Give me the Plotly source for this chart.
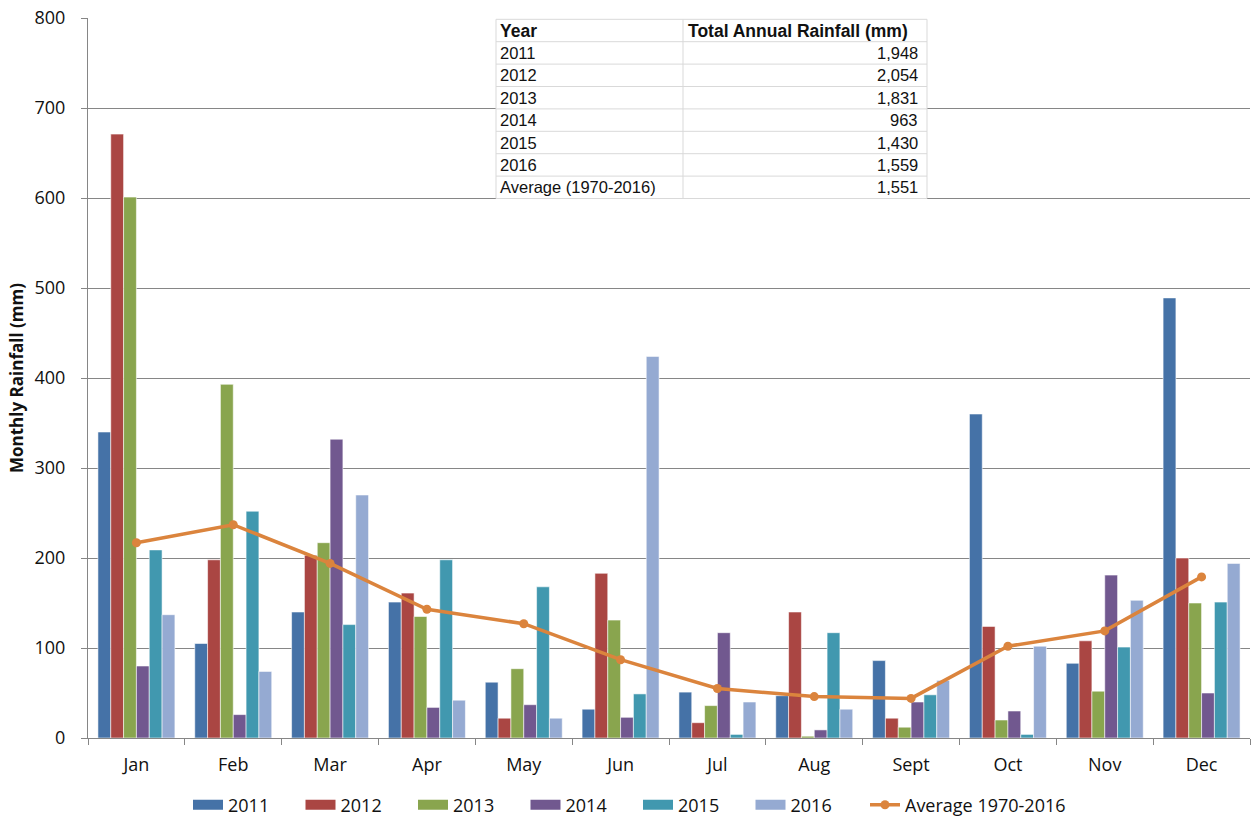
import plotly.graph_objects as go

# Monthly rainfall (mm) by year
months = ["Jan", "Feb", "Mar", "Apr", "May", "Jun", "Jul", "Aug", "Sept", "Oct", "Nov", "Dec"]
rain_2011 = [340, 105, 140, 151, 62, 32, 51, 47, 86, 360, 83, 489]
rain_2012 = [671, 198, 203, 161, 22, 183, 17, 140, 22, 124, 108, 200]
rain_2013 = [601, 393, 217, 135, 77, 131, 36, 2, 12, 20, 52, 150]
rain_2014 = [80, 26, 332, 34, 37, 23, 117, 9, 40, 30, 181, 50]
rain_2015 = [209, 252, 126, 198, 168, 49, 4, 117, 48, 4, 101, 151]
rain_2016 = [137, 74, 270, 42, 22, 424, 40, 32, 64, 102, 153, 194]
avg_1970_2016 = [217, 237, 194, 143, 127, 87, 55, 46, 44, 102, 119, 179]

# Annual totals table
table_header = ["Year", "Total Annual Rainfall (mm)"]
table_years = ["2011", "2012", "2013", "2014", "2015", "2016", "Average (1970-2016)"]
table_totals = [1948, 2054, 1831, 963, 1430, 1559, 1551]

series = [
    ("2011", rain_2011, "#4572A7"),
    ("2012", rain_2012, "#AA4643"),
    ("2013", rain_2013, "#89A54E"),
    ("2014", rain_2014, "#71588F"),
    ("2015", rain_2015, "#4198AF"),
    ("2016", rain_2016, "#95AAD2"),
]

W, H = 1256, 820
ML, MR, MT, MB = 88, 6, 18, 82
PW, PH = W - ML - MR, H - MT - MB

AXIS_GRAY = "#868686"
TEXT = "#111111"
FONT = "Open Sans, Liberation Sans, sans-serif"
TABLE_FONT = "Liberation Sans, Arial, sans-serif"


def px_x(p):
    return (p - ML) / PW


def px_y(p):
    return (H - MB - p) / PH


fig = go.Figure()

for name, vals, color in series:
    fig.add_trace(go.Bar(
        x=months, y=vals, name=name, legendgroup=name, showlegend=False,
        marker=dict(color=color, line=dict(color="rgba(255,255,255,0.7)", width=0.8)),
    ))

# Legend keys for the bar series: wide rectangular swatches
for name, vals, color in series:
    fig.add_trace(go.Scatter(
        x=[None], y=[None], name=name, legendgroup=name, mode="lines",
        line=dict(color=color, width=12), legend="legend", hoverinfo="skip",
    ))

fig.add_trace(go.Scatter(
    x=months, y=avg_1970_2016, name="Average 1970-2016",
    mode="lines+markers",
    line=dict(color="#DB843D", width=3.5),
    marker=dict(color="#DB843D", size=9),
    legend="legend2",
))

# Inset table of annual totals, drawn with shapes and annotations
t_left, t_mid, t_right = 496, 683, 927
t_top, row_h = 19.3, 22.4
n_rows = len(table_years) + 1
t_bottom = t_top + n_rows * row_h
line_col = "#d9d9d9"

shapes = [dict(type="rect", xref="paper", yref="paper", layer="above",
               x0=px_x(t_left), x1=px_x(t_right), y0=px_y(t_bottom), y1=px_y(t_top),
               fillcolor="white", line=dict(width=0))]
for i in range(n_rows + 1):
    yy = px_y(t_top + i * row_h)
    shapes.append(dict(type="line", xref="paper", yref="paper", layer="above",
                       x0=px_x(t_left), x1=px_x(t_right), y0=yy, y1=yy,
                       line=dict(color=line_col, width=1)))
for xx in (t_left, t_mid, t_right):
    shapes.append(dict(type="line", xref="paper", yref="paper", layer="above",
                       x0=px_x(xx), x1=px_x(xx), y0=px_y(t_bottom), y1=px_y(t_top),
                       line=dict(color=line_col, width=1)))

annotations = []
head_font = dict(family=TABLE_FONT, size=17.5, color=TEXT)
cell_font = dict(family=TABLE_FONT, size=16.5, color=TEXT)
hy = px_y(t_top + 0.5 * row_h)
annotations.append(dict(xref="paper", yref="paper", x=px_x(t_left + 2), y=hy,
                        text=f"<b>{table_header[0]}</b>", showarrow=False,
                        xanchor="left", yanchor="middle", font=head_font))
annotations.append(dict(xref="paper", yref="paper", x=px_x(t_mid + 3), y=hy,
                        text=f"<b>{table_header[1]}</b>", showarrow=False,
                        xanchor="left", yanchor="middle", font=head_font))
for i, (yr, tot) in enumerate(zip(table_years, table_totals), start=1):
    ry = px_y(t_top + (i + 0.5) * row_h)
    annotations.append(dict(xref="paper", yref="paper", x=px_x(t_left + 2), y=ry,
                            text=yr, showarrow=False, xanchor="left", yanchor="middle",
                            font=cell_font))
    annotations.append(dict(xref="paper", yref="paper", x=px_x(t_right - 7), y=ry,
                            text=f"{tot:,}", showarrow=False, xanchor="right",
                            yanchor="middle", font=cell_font))

legend_font = dict(family=FONT, size=18, color=TEXT)

fig.update_layout(
    width=W, height=H,
    margin=dict(l=ML, r=MR, t=MT, b=MB, autoexpand=False),
    paper_bgcolor="white", plot_bgcolor="white",
    barmode="group", bargap=0.205, bargroupgap=0,
    font=dict(family=FONT, size=18, color=TEXT),
    showlegend=True,
    legend=dict(
        orientation="h", x=px_x(188), xanchor="left", y=px_y(805), yanchor="middle",
        entrywidth=67.5, font=legend_font, bgcolor="rgba(0,0,0,0)",
    ),
    legend2=dict(
        orientation="h", x=px_x(865), xanchor="left", y=px_y(805), yanchor="middle",
        font=legend_font, bgcolor="rgba(0,0,0,0)",
    ),
    xaxis=dict(
        type="category", range=[-0.5, len(months) - 0.5], tickson="boundaries",
        ticks="outside", ticklen=6, tickcolor=AXIS_GRAY,
        showline=True, linecolor=AXIS_GRAY, linewidth=1,
        showgrid=False, tickfont=dict(family=FONT, size=18, color=TEXT),
        ticklabelstandoff=10,
    ),
    yaxis=dict(
        range=[0, 800], dtick=100, ticks="outside", ticklen=6, tickcolor=AXIS_GRAY,
        showline=True, linecolor=AXIS_GRAY, linewidth=1,
        showgrid=True, gridcolor=AXIS_GRAY, gridwidth=1, zeroline=False,
        tickfont=dict(family=FONT, size=18, color=TEXT),
        ticklabelstandoff=12,
        title=dict(text="<b>Monthly Rainfall (mm)</b>",
                   font=dict(family=FONT, size=17, color=TEXT), standoff=6),
    ),
    shapes=shapes,
    annotations=annotations,
)

fig.write_html("out.html")
